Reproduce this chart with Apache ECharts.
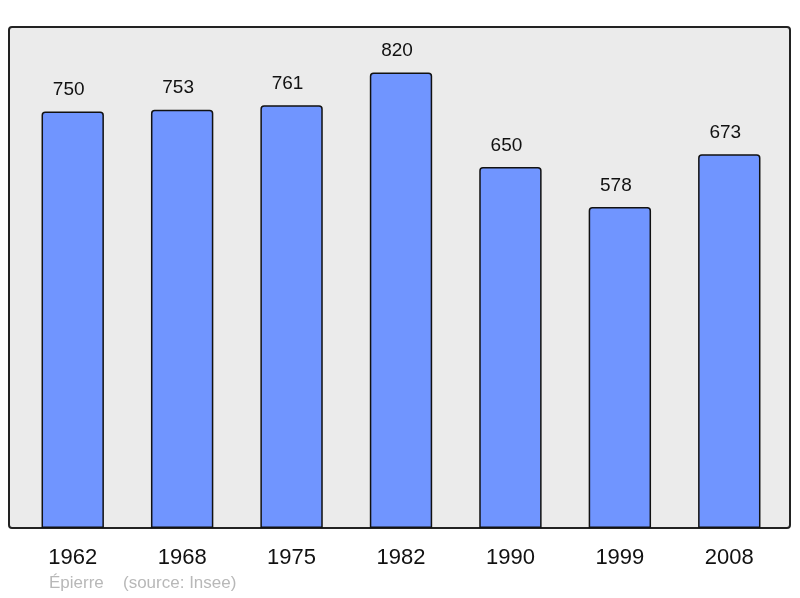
<!DOCTYPE html>
<html>
<head>
<meta charset="utf-8">
<script src="https://cdn.jsdelivr.net/npm/echarts@6/dist/echarts.min.js"></script>
<style>
html,body{margin:0;padding:0;background:#fff;}
#chart{width:800px;height:598px;}
</style>
</head>
<body>
<div id="chart"></div>
<script>
var years = ['1962', '1968', '1975', '1982', '1990', '1999', '2008'];
var population = [750, 753, 761, 820, 650, 578, 673];

var myChart = echarts.init(document.getElementById('chart'));
var option = {
    animation: false,
    backgroundColor: '#fff',
    textStyle: {fontFamily: 'Liberation Sans'},
    graphic: [{
        type: 'rect',
        z: -1,
        shape: {x: 9, y: 27, width: 781, height: 501, r: 3},
        style: {fill: '#ebebeb', stroke: '#222', lineWidth: 2}
    }, {
        type: 'text',
        left: 49,
        top: 575,
        style: {
            text: 'Épierre',
            fill: '#b8b8b8',
            font: '17px Liberation Sans'
        }
    }, {
        type: 'text',
        left: 123,
        top: 575,
        style: {
            text: '(source: Insee)',
            fill: '#b8b8b8',
            font: '17px Liberation Sans'
        }
    }],
    grid: {left: 18, right: 16, top: 27, bottom: 70},
    xAxis: {
        type: 'category',
        data: years,
        axisLine: {show: false},
        axisTick: {show: false},
        axisLabel: {color: '#111', fontSize: 22, margin: 19}
    },
    yAxis: {
        type: 'value',
        min: 0,
        max: 902,
        show: false,
        splitLine: {show: false}
    },
    series: [{
        type: 'bar',
        data: population,
        barWidth: '57%',
        itemStyle: {
            color: '#7095ff',
            borderColor: '#111',
            borderWidth: 1.5,
            borderRadius: [3, 3, 0, 0]
        },
        label: {
            show: true,
            position: 'top',
            distance: 12,
            offset: [-4, 0],
            color: '#111',
            fontSize: 19
        }
    }]
};
myChart.setOption(option);
</script>
</body>
</html>
